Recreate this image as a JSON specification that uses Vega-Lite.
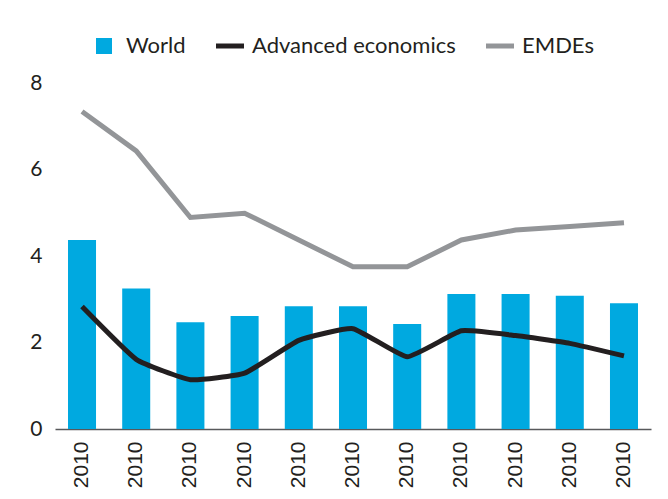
{
  "$schema": "https://vega.github.io/schema/vega-lite/v6.json",
  "autosize": {"type": "none"},
  "width": 596,
  "height": 346,
  "padding": {"left": 55, "top": 83, "right": 17, "bottom": 70},
  "background": "white",
  "config": {"view": {"stroke": null}, "font": "Lato"},
  "data": {
    "values": [
      {"i": 1, "year": "2010", "world": 4.37, "advanced": 2.83, "emdes": 7.34},
      {"i": 2, "year": "2010", "world": 3.25, "advanced": 1.61, "emdes": 6.43},
      {"i": 3, "year": "2010", "world": 2.47, "advanced": 1.14, "emdes": 4.89},
      {"i": 4, "year": "2010", "world": 2.61, "advanced": 1.29, "emdes": 4.99},
      {"i": 5, "year": "2010", "world": 2.84, "advanced": 2.05, "emdes": 4.37},
      {"i": 6, "year": "2010", "world": 2.84, "advanced": 2.32, "emdes": 3.75},
      {"i": 7, "year": "2010", "world": 2.43, "advanced": 1.67, "emdes": 3.75},
      {"i": 8, "year": "2010", "world": 3.12, "advanced": 2.27, "emdes": 4.37},
      {"i": 9, "year": "2010", "world": 3.12, "advanced": 2.16, "emdes": 4.6},
      {"i": 10, "year": "2010", "world": 3.08, "advanced": 1.98, "emdes": 4.68},
      {"i": 11, "year": "2010", "world": 2.91, "advanced": 1.69, "emdes": 4.77}
    ]
  },
  "encoding": {
    "x": {
      "field": "i",
      "type": "ordinal",
      "scale": {"paddingInner": 0.483, "paddingOuter": 0.24},
      "axis": {
        "title": null,
        "labelExpr": "'2010'",
        "labelAngle": -90,
        "labelAlign": "right",
        "labelBaseline": "middle",
        "labelFont": "Liberation Sans",
        "labelFontSize": 21,
        "labelColor": "#231f20",
        "labelPadding": 12,
        "ticks": false,
        "domainColor": "#58595b",
        "domainWidth": 1.5,
        "grid": false
      }
    }
  },
  "layer": [
    {
      "mark": {"type": "bar"},
      "encoding": {
        "y": {
          "field": "world",
          "type": "quantitative",
          "scale": {"domain": [0, 8], "nice": false},
          "axis": {
            "title": null,
            "values": [0, 2, 4, 6, 8],
            "grid": false,
            "domain": false,
            "ticks": false,
            "labelPadding": 13,
            "labelFont": "Lato",
            "labelFontSize": 21,
            "labelColor": "#231f20"
          }
        },
        "color": {
          "datum": "World",
          "type": "nominal",
          "scale": {
            "domain": ["World", "Advanced economics", "EMDEs"],
            "range": ["#00a9e0", "#231f20", "#939598"]
          },
          "legend": {
            "title": null,
            "orient": "none",
            "direction": "horizontal",
            "legendX": 38,
            "legendY": -48,
            "symbolType": "stroke",
            "symbolSize": 784,
            "symbolStrokeWidth": 5,
            "labelFont": "Lato",
            "labelFontSize": 22,
            "labelLimit": 400,
            "labelColor": "#231f20",
            "labelOffset": 11,
            "columnPadding": 20,
            "encode": {
              "symbols": {
                "update": {
                  "shape": {"signal": "datum.value === 'World' ? 'square' : 'stroke'"},
                  "fill": {"signal": "datum.value === 'World' ? '#00a9e0' : 'transparent'"},
                  "size": {"signal": "datum.value === 'World' ? 256 : 784"},
                  "strokeWidth": {"signal": "datum.value === 'World' ? 0 : 5"}
                }
              }
            }
          }
        }
      }
    },
    {
      "mark": {"type": "line", "interpolate": "cardinal", "tension": 0.6, "strokeWidth": 5},
      "encoding": {
        "y": {"field": "advanced", "type": "quantitative"},
        "color": {"datum": "Advanced economics", "type": "nominal"}
      }
    },
    {
      "mark": {"type": "line", "strokeWidth": 5},
      "encoding": {
        "y": {"field": "emdes", "type": "quantitative"},
        "color": {"datum": "EMDEs", "type": "nominal"}
      }
    }
  ]
}
